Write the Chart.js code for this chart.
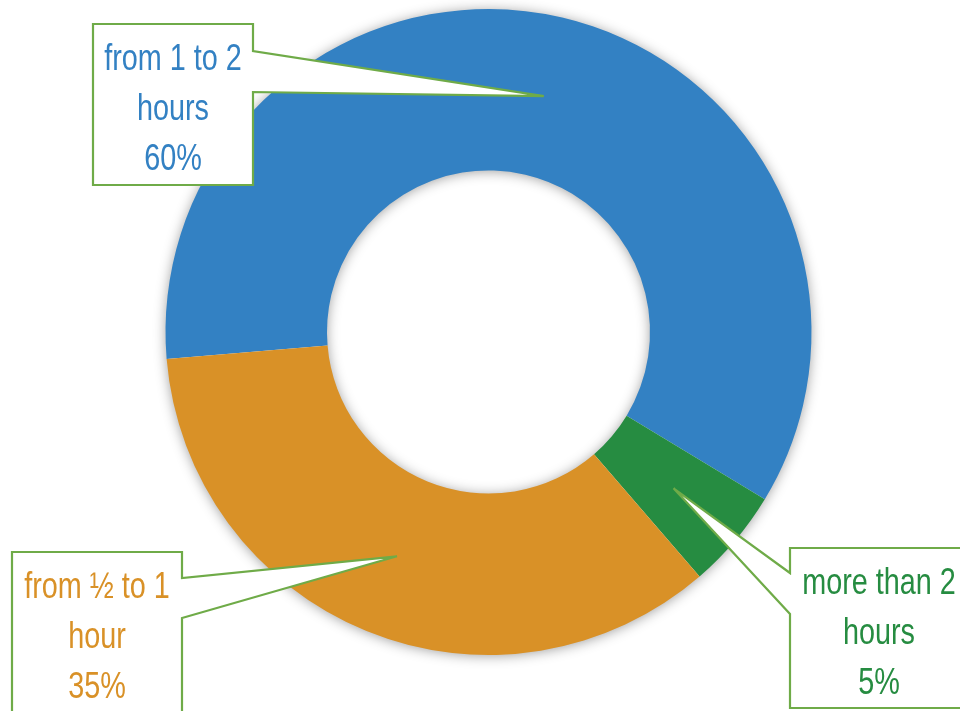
<!DOCTYPE html>
<html>
<head>
<meta charset="utf-8">
<script src="https://cdn.jsdelivr.net/npm/chart.js@4/dist/chart.umd.min.js"></script>
<style>
  html, body { margin: 0; padding: 0; background: #ffffff; }
  #wrap { width: 960px; height: 711px; position: relative; overflow: hidden; }
</style>
</head>
<body>
<div id="wrap"><canvas id="c" width="960" height="711"></canvas></div>
<script>
// ---- data ----
const categories = ['from 1 to 2 hours', 'more than 2 hours', 'from ½ to 1 hour'];
const labelLines = [['from 1 to 2', 'hours'], ['more than 2', 'hours'], ['from ½ to 1', 'hour']];
const values = [60, 5, 35];

// ---- styles ----
const sliceColors = ['#3381C3', '#268C41', '#D99127'];
const calloutBorder = '#6FAB48';
const labelFont = "36px 'Liberation Sans', Arial, sans-serif";
const textCondense = 0.8;

// ---- callout box layout (annotation positions, in canvas px) ----
const calloutLayout = [
  { box: [93, 24, 253, 185], side: 'right', base: [51, 92] },
  { box: [790, 548, 968, 708], side: 'left', base: [573, 614] },
  { box: [12, 552, 182, 716], side: 'right', base: [578, 618] }
];

const ringShadow = {
  id: 'ringShadow',
  beforeDatasetsDraw(chart) {
    const arc = chart.getDatasetMeta(0).data[0];
    if (!arc) return;
    const { x, y, outerRadius, innerRadius } = arc.getProps(['x', 'y', 'outerRadius', 'innerRadius']);
    const ctx = chart.ctx;
    ctx.save();
    ctx.shadowColor = 'rgba(0,0,0,0.42)';
    ctx.shadowBlur = 13;
    ctx.shadowOffsetX = 0;
    ctx.shadowOffsetY = 1;
    ctx.fillStyle = '#ffffff';
    ctx.beginPath();
    ctx.arc(x, y, outerRadius - 1, 0, Math.PI * 2);
    ctx.moveTo(x + innerRadius + 1, y);
    ctx.arc(x, y, innerRadius + 1, 0, Math.PI * 2, true);
    ctx.fill('evenodd');
    ctx.restore();
  }
};

const callouts = {
  id: 'callouts',
  afterDatasetsDraw(chart) {
    const meta = chart.getDatasetMeta(0);
    const ctx = chart.ctx;
    const total = values.reduce((a, b) => a + b, 0);
    meta.data.forEach((arc, i) => {
      const L = calloutLayout[i];
      const tip = arc.getCenterPoint();
      const [x0, y0, x1, y1] = L.box;
      ctx.save();
      ctx.beginPath();
      if (L.side === 'right') {
        ctx.moveTo(x0, y0);
        ctx.lineTo(x1, y0);
        ctx.lineTo(x1, L.base[0]);
        ctx.lineTo(tip.x, tip.y);
        ctx.lineTo(x1, L.base[1]);
        ctx.lineTo(x1, y1);
        ctx.lineTo(x0, y1);
        ctx.closePath();
      } else {
        ctx.moveTo(x1, y0);
        ctx.lineTo(x0, y0);
        ctx.lineTo(x0, L.base[0]);
        ctx.lineTo(tip.x, tip.y);
        ctx.lineTo(x0, L.base[1]);
        ctx.lineTo(x0, y1);
        ctx.lineTo(x1, y1);
        ctx.closePath();
      }
      ctx.fillStyle = '#ffffff';
      ctx.fill();
      ctx.lineWidth = 2.2;
      ctx.lineJoin = 'miter';
      ctx.strokeStyle = calloutBorder;
      ctx.stroke();

      const lines = labelLines[i].concat([Math.round(values[i] / total * 100) + '%']);
      ctx.font = labelFont;
      ctx.fillStyle = sliceColors[i];
      ctx.textAlign = 'center';
      ctx.textBaseline = 'alphabetic';
      const cx = (x0 + x1) / 2;
      lines.forEach((t, k) => {
        ctx.save();
        ctx.translate(cx, y0 + 46 + k * 50);
        ctx.scale(textCondense, 1);
        ctx.fillText(t, 0, 0);
        ctx.restore();
      });
      ctx.restore();
    });
  }
};

new Chart(document.getElementById('c'), {
  type: 'doughnut',
  data: {
    labels: categories,
    datasets: [{
      data: values,
      backgroundColor: sliceColors,
      borderWidth: 0,
      hoverBorderWidth: 0,
      hoverOffset: 0
    }]
  },
  options: {
    responsive: false,
    animation: false,
    rotation: 265.2,
    cutout: '50%',
    layout: { padding: { left: 17, right: 0, top: 9, bottom: 56 } },
    plugins: {
      legend: { display: false },
      tooltip: { enabled: false },
      title: { display: false }
    },
    events: []
  },
  plugins: [ringShadow, callouts]
});
</script>
</body>
</html>
